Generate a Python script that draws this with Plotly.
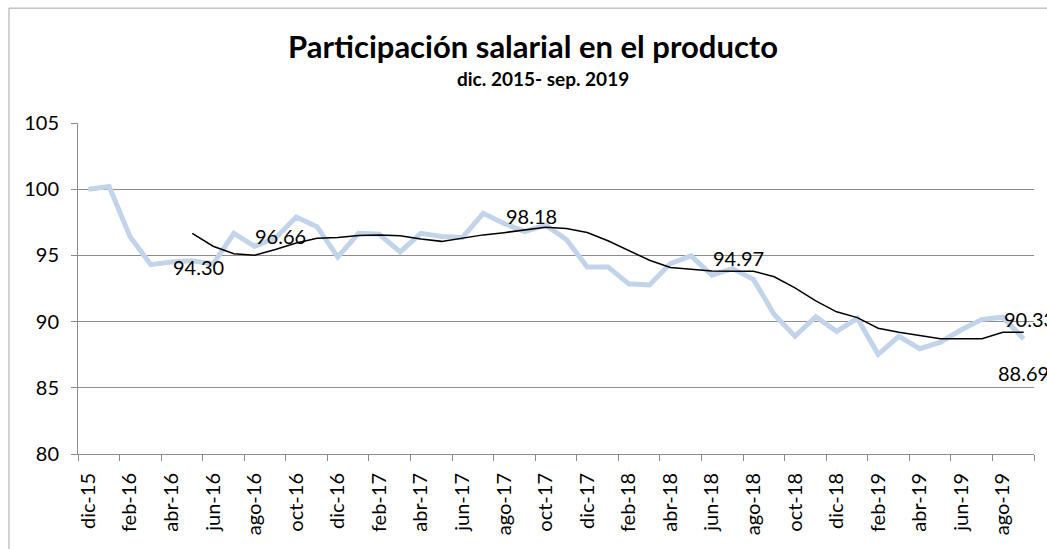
import plotly.graph_objects as go

months = ["dic-15", "ene-16", "feb-16", "mar-16", "abr-16", "may-16", "jun-16", "jul-16",
          "ago-16", "sep-16", "oct-16", "nov-16", "dic-16", "ene-17", "feb-17", "mar-17",
          "abr-17", "may-17", "jun-17", "jul-17", "ago-17", "sep-17", "oct-17", "nov-17",
          "dic-17", "ene-18", "feb-18", "mar-18", "abr-18", "may-18", "jun-18", "jul-18",
          "ago-18", "sep-18", "oct-18", "nov-18", "dic-18", "ene-19", "feb-19", "mar-19",
          "abr-19", "may-19", "jun-19", "jul-19", "ago-19", "sep-19"]

participacion = [100.0, 100.2, 96.43, 94.30, 94.5, 94.6, 94.35, 96.66,
                 95.69, 96.3, 97.9, 97.17, 94.88, 96.67, 96.6, 95.27,
                 96.67, 96.43, 96.36, 98.18, 97.41, 96.8, 97.29, 96.2,
                 94.13, 94.13, 92.85, 92.77, 94.38, 94.97, 93.51, 94.0,
                 93.19, 90.54, 88.89, 90.37, 89.26, 90.25, 87.53, 88.89,
                 87.95, 88.44, 89.38, 90.17, 90.33, 88.69]

promedio_movil = [None, None, None, None, None, 96.67, 95.69, 95.12,
                  95.02, 95.44, 95.93, 96.3, 96.36, 96.5, 96.55, 96.48,
                  96.23, 96.06, 96.3, 96.55, 96.72, 96.92, 97.12, 97.04,
                  96.73, 96.11, 95.37, 94.63, 94.08, 93.93, 93.83, 93.81,
                  93.81, 93.39, 92.55, 91.56, 90.74, 90.3, 89.5, 89.2,
                  88.94, 88.71, 88.71, 88.71, 89.2, 89.2]

# indices of labelled points of the main series
label_idx = [3, 7, 19, 29, 44, 45]

y_ticks = [80, 85, 90, 95, 100, 105]

FONT = "Lato, 'Open Sans', sans-serif"
GRID = "#8c8c8c"

xs = list(range(len(months)))
tick_idx = xs[::2]

fig = go.Figure()
fig.add_trace(go.Scatter(x=xs, y=participacion, mode="lines",
                         line=dict(color="#C2D4E9", width=5), showlegend=False,
                         hoverinfo="skip"))
fig.add_trace(go.Scatter(x=xs, y=promedio_movil, mode="lines",
                         line=dict(color="black", width=1.5), showlegend=False,
                         connectgaps=False, hoverinfo="skip"))

# data labels (dragged positions as in the original)
label_style = {
    3: dict(xanchor="left", xshift=20, yshift=-2),
    7: dict(xanchor="left", xshift=19, yshift=-3),
    19: dict(xanchor="left", xshift=21, yshift=-3),
    29: dict(xanchor="left", xshift=20, yshift=-2),
    44: dict(xanchor="left", xshift=-1, yshift=-2),
    45: dict(xanchor="center", xshift=0, yshift=-34),
}
for i in label_idx:
    st = label_style[i]
    fig.add_annotation(x=xs[i], y=participacion[i], xref="x", yref="y",
                       text=f"{participacion[i]:.2f}", showarrow=False,
                       xanchor=st["xanchor"], yanchor="middle",
                       xshift=st["xshift"], yshift=st["yshift"],
                       font=dict(family=FONT, size=20, color="black"))

# Title and subtitle
fig.add_annotation(x=0.476, y=1.233, xref="paper", yref="paper",
                   text="<b>Participación salarial en el producto</b>", showarrow=False,
                   xanchor="center", yanchor="middle",
                   font=dict(family=FONT, size=31, color="black"))
fig.add_annotation(x=0.486, y=1.135, xref="paper", yref="paper",
                   text="<b>dic. 2015- sep. 2019</b>", showarrow=False,
                   xanchor="center", yanchor="middle",
                   font=dict(family=FONT, size=19, color="black"))

# chart frame (top and left edges visible)
fig.add_shape(type="line", xref="paper", yref="paper", x0=-0.0722, x1=1.2,
              y0=1.347, y1=1.347, line=dict(color="#a6a6a6", width=1))
fig.add_shape(type="line", xref="paper", yref="paper", x0=-0.0722, x1=-0.0722,
              y0=1.347, y1=-0.4, line=dict(color="#a6a6a6", width=1))

fig.update_layout(
    width=1047, height=549,
    margin=dict(l=78, r=13, t=123, b=95),
    paper_bgcolor="white", plot_bgcolor="white",
    font=dict(family=FONT, size=20, color="black"),
    xaxis=dict(range=[-0.5, len(months) - 0.5], tickmode="array",
               tickvals=tick_idx, ticktext=[months[i] for i in tick_idx],
               tickangle=-90, ticks="", showgrid=False, zeroline=False,
               showline=True, linecolor=GRID, linewidth=1,
               tickfont=dict(family=FONT, size=20, color="black"),
               ticklabelstandoff=10,
               minor=dict(tickmode="array",
                          tickvals=[v - 0.5 for v in range(0, len(months) + 1, 2)],
                          ticks="outside", ticklen=6, tickcolor=GRID, showgrid=False)),
    yaxis=dict(range=[80, 105], tickmode="array", tickvals=y_ticks,
               ticks="outside", ticklen=6, tickcolor=GRID,
               showgrid=True, gridcolor=GRID, gridwidth=1, zeroline=False,
               showline=True, linecolor=GRID, linewidth=1,
               tickfont=dict(family=FONT, size=20, color="black"),
               ticklabelstandoff=8),
)

fig.write_html("out.html",
               config={"displayModeBar": False},
               post_script="document.body.style.margin='0';"
                           "document.body.style.overflow='hidden';")
